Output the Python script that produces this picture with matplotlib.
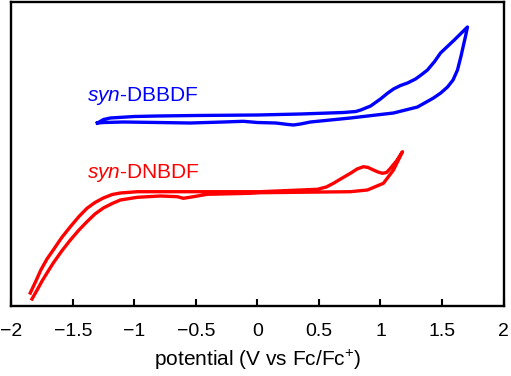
import matplotlib.pyplot as plt

plt.rcParams['font.family'] = 'Liberation Sans'
plt.rcParams['mathtext.fontset'] = 'custom'
plt.rcParams['mathtext.rm'] = 'Liberation Sans'
plt.rcParams['mathtext.it'] = 'Liberation Sans:italic'

# syn-DBBDF: forward (anodic) sweep then return sweep, arbitrary current units
dbbdf_e = [-1.30, -1.25, -1.195, -1.0, -0.81, -0.5, 0.0, 0.35, 0.70, 0.80, 0.84, 0.92,
           1.0, 1.06, 1.106, 1.163, 1.22, 1.285, 1.33, 1.382, 1.44, 1.488, 1.60, 1.707,
           1.69, 1.675, 1.655, 1.626, 1.59, 1.545, 1.49, 1.431, 1.301, 1.106, 0.756,
           0.431, 0.35, 0.293, 0.25, 0.15, 0.0, -0.114, -0.276, -0.545, -0.81, -1.089,
           -1.25, -1.30]
dbbdf_i = [182, 185.5, 187, 188.5, 189, 189.5, 190, 191, 192.5, 193.5, 195, 199,
           206, 212, 216, 219.5, 222, 226, 230, 235, 243.5, 252, 265, 278,
           268, 260, 249, 235, 225, 218, 212, 207, 198, 192, 187,
           183, 181, 180, 180.5, 182, 182.5, 183.7, 183, 182, 182.5, 183,
           182.5, 182]

# syn-DNBDF
dnbdf_e = [-1.846, -1.80, -1.76, -1.71, -1.659, -1.59, -1.520, -1.45, -1.385, -1.32, -1.252,
           -1.18, -1.114, -0.976, -0.707, 0.024, 0.488, 0.56, 0.618, 0.69, 0.756, 0.81,
           0.862, 0.90, 0.943, 0.98, 1.016, 1.05, 1.081, 1.13, 1.179,
           1.106, 1.024, 0.894, 0.756, 0.024, -0.057, -0.407, -0.520, -0.602, -0.650,
           -0.789, -0.976, -1.114, -1.18, -1.252, -1.32, -1.385, -1.45, -1.520, -1.59,
           -1.659, -1.71, -1.75, -1.79, -1.832]
dnbdf_i = [12, 24, 35, 46, 55, 67.5, 78.3, 88.5, 96.7, 102.5, 107,
           110.5, 112, 113.3, 113.3, 113.3, 115.7, 118, 121.7, 127, 131.7, 136,
           138.3, 137.5, 135, 133, 131.7, 132.5, 136.7, 144, 153.3,
           135, 121.7, 115, 113.3, 112.3, 111.7, 110.7, 108.3, 106.7, 108.3,
           109, 107.7, 105, 101.5, 97, 91, 83.3, 75, 65, 54,
           42, 32, 24, 15, 6]

xticks = [-2, -1.5, -1, -0.5, 0, 0.5, 1, 1.5, 2]
xtick_labels = ['\u22122', '\u22121.5', '\u22121', '\u22120.5', '0', '0.5', '1', '1.5', '2']

fig = plt.figure(figsize=(5.11, 3.76), dpi=100)
ax = fig.add_axes([11.3 / 511, 1 - 306 / 376, (503.5 - 11.3) / 511, (306 - 2.2) / 376])

ax.plot(dbbdf_e, dbbdf_i, color='#0000ff', lw=2.4, solid_joinstyle='round')
ax.plot(dnbdf_e, dnbdf_i, color='#ff0000', lw=2.4, solid_joinstyle='round')

ax.text(-1.385, 204, r'$\mathit{syn}$-DBBDF', color='#0000ff', fontsize=15)
ax.text(-1.385, 127, r'$\mathit{syn}$-DNBDF', color='#ff0000', fontsize=15)

ax.set_xlim(-2, 2)
ax.set_ylim(-1, 302.8)
ax.set_xticks(xticks)
ax.set_xticklabels(xtick_labels)
ax.set_yticks([])
ax.tick_params(axis='x', direction='in', length=5, width=1.5, labelsize=14, pad=12)
for s in ax.spines.values():
    s.set_linewidth(1.7)
ax.set_xlabel(r'potential (V vs Fc/Fc$^{+}$)', fontsize=15, labelpad=6)

fig.savefig('out.png', dpi=100)
